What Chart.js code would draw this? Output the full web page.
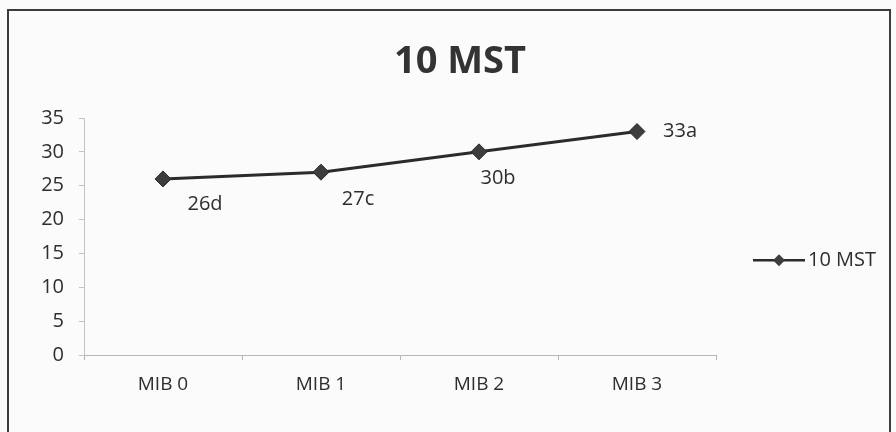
<!DOCTYPE html>
<html>
<head>
<meta charset="utf-8">
<script src="https://cdn.jsdelivr.net/npm/chart.js@4/dist/chart.umd.min.js"></script>
<style>
    html, body { margin: 0; padding: 0; background: #fbfbfb; }
    #wrap { position: relative; width: 896px; height: 432px; overflow: hidden; }
    #frame { position: absolute; left: 7px; top: 9px; width: 884px; height: 440px; border: 2px solid #3c3c3c; box-sizing: border-box; pointer-events: none; }
    canvas { position: absolute; left: 0; top: 0; }
</style>
</head>
<body>
<div id="wrap">
    <canvas id="chart" width="896" height="432"></canvas>
    <div id="frame"></div>
</div>
<script>
const categories = ["MIB 0", "MIB 1", "MIB 2", "MIB 3"];
const mstValues = [26, 27, 30, 33];
const groupLetters = ["d", "c", "b", "a"];
const yTicks = [0, 5, 10, 15, 20, 25, 30, 35];
const seriesName = "10 MST";

const FONT = "'Open Sans', 'Noto Sans', sans-serif";
const INK = "#2e2e2e";

// chart heading, centred over the whole frame rather than the plot
const heading = {
    id: "heading",
    afterDraw(chart) {
        const ctx = chart.ctx;
        ctx.save();
        ctx.font = "bold 38px " + FONT;
        ctx.fillStyle = "#333";
        ctx.textAlign = "center";
        ctx.textBaseline = "middle";
        ctx.fillText(seriesName, 460, 62);
        ctx.restore();
    }
};

// value labels next to each point, e.g. "26d"
const pointLabels = {
    id: "pointLabels",
    afterDatasetsDraw(chart) {
        const offsets = [[42, 25], [37, 27], [19, 26], [43, 0]];
        const meta = chart.getDatasetMeta(0);
        const ctx = chart.ctx;
        ctx.save();
        ctx.font = "20px " + FONT;
        ctx.fillStyle = INK;
        ctx.textAlign = "center";
        ctx.textBaseline = "middle";
        meta.data.forEach((pt, i) => {
            const text = chart.data.datasets[0].data[i] + groupLetters[i];
            ctx.fillText(text, pt.x + offsets[i][0], pt.y + offsets[i][1]);
        });
        ctx.restore();
    }
};

// legend: line with diamond marker, then series name
const sideLegend = {
    id: "sideLegend",
    afterDraw(chart) {
        const ds = chart.data.datasets[0];
        const area = chart.chartArea;
        const x0 = area.right + 37;
        const y = area.top + (area.bottom - area.top) * 0.6;
        const ctx = chart.ctx;
        ctx.save();
        ctx.strokeStyle = ds.borderColor;
        ctx.lineWidth = 2.5;
        ctx.beginPath();
        ctx.moveTo(x0, y);
        ctx.lineTo(x0 + 52, y);
        ctx.stroke();
        ctx.fillStyle = ds.pointBackgroundColor;
        ctx.beginPath();
        ctx.moveTo(x0 + 26, y - 6);
        ctx.lineTo(x0 + 32, y);
        ctx.lineTo(x0 + 26, y + 6);
        ctx.lineTo(x0 + 20, y);
        ctx.closePath();
        ctx.fill();
        ctx.font = "20px " + FONT;
        ctx.fillStyle = INK;
        ctx.textBaseline = "middle";
        ctx.fillText(ds.label, x0 + 55, y);
        ctx.restore();
    }
};

new Chart(document.getElementById("chart").getContext("2d"), {
    type: "line",
    data: {
        labels: categories,
        datasets: [{
            label: seriesName,
            data: mstValues,
            borderColor: "#2b2b2b",
            borderWidth: 3,
            pointStyle: "rectRot",
            pointRadius: 8,
            pointBackgroundColor: "#3d3d3d",
            pointBorderColor: "#2b2b2b",
            pointBorderWidth: 1,
            tension: 0
        }]
    },
    options: {
        responsive: false,
        animation: false,
        layout: { padding: { left: 0, right: 180, top: 118, bottom: 0 } },
        plugins: {
            legend: { display: false },
            tooltip: { enabled: false },
            title: { display: false }
        },
        scales: {
            x: {
                offset: true,
                grid: { display: true, offset: true, drawOnChartArea: false, tickLength: 5, color: "#b5b5b5" },
                border: { display: true, color: "#b5b5b5", width: 1 },
                ticks: { color: INK, font: { family: FONT, size: 19 }, padding: 13 },
                afterFit(scale) { scale.height = 77; }
            },
            y: {
                min: 0,
                max: 35,
                afterBuildTicks(scale) { scale.ticks = yTicks.map(v => ({ value: v })); },
                grid: { display: true, drawOnChartArea: false, tickLength: 5, color: "#c4c4c4" },
                border: { display: true, color: "#c4c4c4", width: 1, dash: [2, 2] },
                ticks: { color: INK, font: { family: FONT, size: 20 }, padding: 15 },
                afterFit(scale) { scale.width = 84; }
            }
        }
    },
    plugins: [pointLabels, sideLegend, heading]
});
</script>
</body>
</html>
